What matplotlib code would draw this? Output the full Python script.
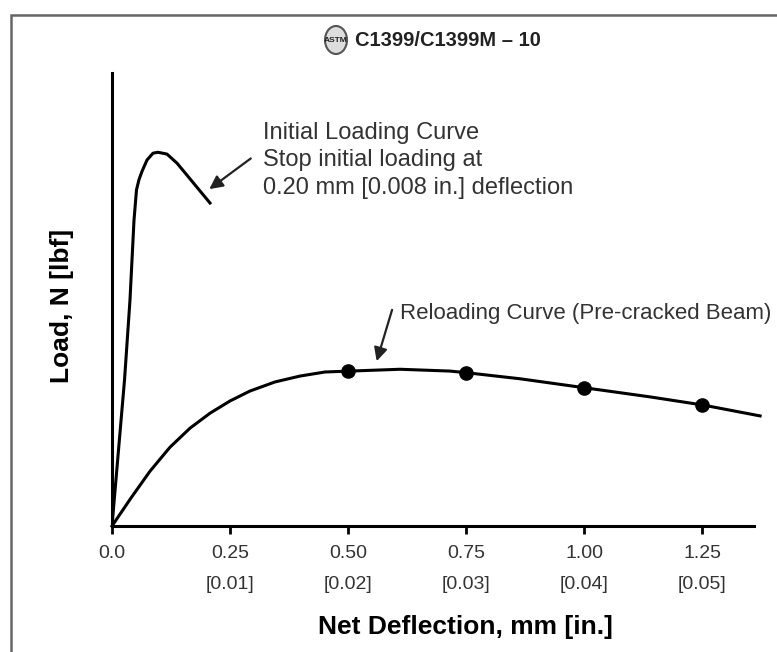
import matplotlib
matplotlib.use("Agg")
import matplotlib.pyplot as plt
from matplotlib.patches import Rectangle, Ellipse

plt.rcParams['font.family'] = ['Liberation Sans', 'DejaVu Sans']

# initial loading curve (load in arbitrary units, 0-100)
init_x = [0.0, 0.0138, 0.0265, 0.0381, 0.0466, 0.0519, 0.0570, 0.0636, 0.0742, 0.0869, 0.0975,
          0.1165, 0.1377, 0.2076]
init_load = [0.0, 16.8, 32.2, 49.9, 67.5, 74.2, 76.4, 78.3, 80.8, 82.3, 82.5, 82.1, 80.1, 71.3]

# reloading curve (pre-cracked beam)
reload_x = [0.0, 0.0403, 0.0805, 0.1229, 0.1653, 0.2076, 0.2500, 0.2924, 0.3453, 0.3983, 0.4513,
            0.5042, 0.6102, 0.7161, 0.7542, 0.8644, 1.0021, 1.1398, 1.2521, 1.3729]
reload_load = [0.0, 6.2, 12.1, 17.4, 21.6, 24.9, 27.6, 29.8, 31.8, 33.1, 34.0,
               34.2, 34.6, 34.2, 33.8, 32.5, 30.5, 28.5, 26.7, 24.3]

# marked points on reloading curve
dots_x = [0.50, 0.75, 1.00, 1.25]
dots_load = [34.2, 33.8, 30.5, 26.7]

tick_pos = [0.0, 0.25, 0.50, 0.75, 1.00, 1.25]
tick_labels = ['0.0', '0.25\n[0.01]', '0.50\n[0.02]', '0.75\n[0.03]', '1.00\n[0.04]', '1.25\n[0.05]']

W, H = 777, 652
fig = plt.figure(figsize=(W / 100, H / 100), dpi=100)
ax = fig.add_axes([112 / W, 1 - 526 / H, (754 - 112) / W, (526 - 73) / H])

ax.plot(init_x, init_load, color='black', lw=2.2, solid_joinstyle='round')
ax.plot(reload_x, reload_load, color='black', lw=2.2, clip_on=False, solid_joinstyle='round')
ax.plot(dots_x, dots_load, 'o', color='black', ms=9.5)

ax.set_xlim(0, 1.36)
ax.set_ylim(0, 100)
for s in ['top', 'right']:
    ax.spines[s].set_visible(False)
for s in ['left', 'bottom']:
    ax.spines[s].set_linewidth(2.2)
ax.set_yticks([])
ax.set_xticks(tick_pos)
ax.set_xticklabels(tick_labels, fontsize=14, color='#333333', linespacing=2.05)
ax.tick_params(axis='x', direction='out', length=6, width=2, pad=8)

ax.set_xlabel('Net Deflection, mm [in.]', fontsize=19, fontweight='bold')
ax.xaxis.set_label_coords(0.55, -0.196)
ax.set_ylabel('Load, N [lbf]', fontsize=19, fontweight='bold')
ax.yaxis.set_label_coords(-0.059, 0.486)

txt_color = '#333333'
ax.text(0.32, 89.2, 'Initial Loading Curve\nStop initial loading at\n0.20 mm [0.008 in.] deflection',
        fontsize=17, color=txt_color, va='top', ha='left', linespacing=1.32)
ax.annotate('', xy=(0.2013, 74.0), xytext=(0.2987, 81.5),
            arrowprops=dict(arrowstyle='-|>', color='#222222', lw=1.6, mutation_scale=20))

ax.text(0.61, 47.0, 'Reloading Curve (Pre-cracked Beam)', fontsize=16, color=txt_color,
        va='center', ha='left', clip_on=False)
ax.annotate('', xy=(0.559, 35.8), xytext=(0.595, 48.3),
            arrowprops=dict(arrowstyle='-|>', color='#222222', lw=1.6, mutation_scale=20))

# header: ASTM logo + designation
fig.add_artist(Ellipse((336 / W, 1 - 40 / H), 22 / W, 28 / H, transform=fig.transFigure,
                       facecolor='#dddddd', edgecolor='#555555', lw=1.5))
fig.text(336 / W, 1 - 40 / H, 'ASTM', fontsize=6, fontweight='bold', ha='center', va='center',
         color='#222222')
fig.text(355 / W, 1 - 40 / H, 'C1399/C1399M \u2013 10', fontsize=14.5, fontweight='bold',
         ha='left', va='center', color='#222222')

# page frame (only left and top edges visible)
fig.add_artist(Rectangle((11 / W, -0.1), 1.2, 1.1 - 15 / H, transform=fig.transFigure,
                         fill=False, edgecolor='#666666', lw=1.8))

fig.savefig('out.png', dpi=100)
